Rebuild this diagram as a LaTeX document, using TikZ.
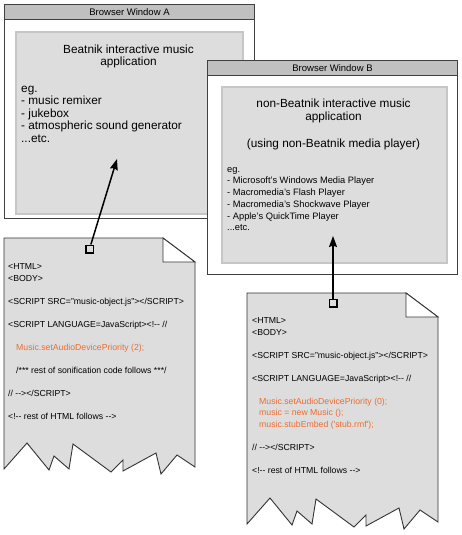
\documentclass[tikz,border=0pt]{standalone}
\usepackage{fontspec}
\setmainfont{Liberation Sans}
\usetikzlibrary{arrows.meta}
\definecolor{winframe}{RGB}{64,64,64}
\definecolor{titlegray}{RGB}{192,192,192}
\definecolor{panegray}{RGB}{221,221,221}
\definecolor{paneedge}{RGB}{198,198,198}
\definecolor{codeorange}{RGB}{238,108,48}

\begin{document}
\begin{tikzpicture}[x=1pt, y=-1pt,
    win/.style={draw=winframe, fill=white, line width=1pt, anchor=north west, inner sep=0pt, minimum width=250pt, minimum height=214pt},
    titlebar/.style={draw=winframe, fill=titlegray, line width=1pt, anchor=north west, inner sep=0pt, minimum width=250pt, minimum height=15pt, font=\fontsize{9.5}{11}\selectfont},
    pane/.style={draw=paneedge, fill=panegray, line width=2pt, anchor=north west, inner sep=0pt},
    bigtxt/.style={inner sep=0pt, font=\fontsize{11.8}{12.6}\selectfont},
    smalltxt/.style={inner sep=0pt, align=left, anchor=north west, font=\fontsize{9.3}{11.7}\selectfont},
    codetxt/.style={inner sep=0pt, align=left, anchor=north west, font=\fontsize{8.7}{11.5}\selectfont},
    sheet/.style={draw=black!80, fill=panegray, line width=0.9pt, line join=miter},
    fold/.style={draw=black!80, fill=white, line width=0.9pt},
    hookbox/.style={draw=black, fill=panegray, line width=1.5pt, minimum size=7.5pt, inner sep=0pt},
    arrowline/.style={line width=1.5pt, -{Stealth[length=11pt, width=8pt, inset=1.5pt]}}
]
\useasboundingbox (0,0) rectangle (461,535);

% Browser window A
\node[win] (winA) at (4,4) {};
\node[titlebar] (barA) at (winA.north west) {Browser Window A};
\node[pane, minimum width=227pt, minimum height=182pt] (paneA) at (15,31) {};
\node[bigtxt, align=center, anchor=north] (headA) at (128.5,44.5)
    {Beatnik interactive music\\application};
\node[bigtxt, align=left, anchor=north west] (listA) at (21,85.5)
    {eg.\\- music remixer\\- jukebox\\- atmospheric sound generator\\...etc.};

% Browser window B
\node[win] (winB) at (207,60) {};
\node[titlebar] (barB) at (winB.north west) {Browser Window B};
\node[pane, minimum width=225pt, minimum height=176pt] (paneB) at (221,86) {};
\node[bigtxt, align=center, anchor=north, font=\fontsize{11.8}{13.3}\selectfont] (headB) at (333.5,98.5)
    {non-Beatnik interactive music\\application\\ \\(using non-Beatnik media player)};
\node[smalltxt] (listB) at (227,167)
    {eg.\\- Microsoft's Windows Media Player\\- Macromedia's Flash Player\\- Macromedia's Shockwave Player\\- Apple's QuickTime Player\\...etc.};

% HTML pages
\foreach \ox/\oy in {4/238, 247/293} {
  \begin{scope}[shift={(\ox,\oy)}]
    \draw[sheet] (0,0) -- (159,0) -- (191,24) -- (191,229) -- (173,217) -- (157,236)
      -- (152,215) -- (119,233) -- (119,222) -- (107,234) -- (69,206) -- (65,231)
      -- (50,218) -- (45,232) -- (23,205) -- (0,231) -- cycle;
    \draw[fold] (159,0) -- (159,24) -- (191,24) -- cycle;
  \end{scope}
}

\node[codetxt] (codeA) at (8,263.8)
    {<HTML>\\<BODY>\\ \\<SCRIPT SRC="music-object.js"></SCRIPT>\\ \\
     <SCRIPT LANGUAGE=JavaScript><!-{}- //\\ \\
     \hspace*{8pt}\textcolor{codeorange}{Music.setAudioDevicePriority (2);}\\ \\
     \hspace*{8pt}/*** rest of sonification code follows ***/\\ \\
     // -{}-></SCRIPT>\\ \\
     <!-{}- rest of HTML follows -{}->};

\node[codetxt] (codeB) at (252,317.8)
    {<HTML>\\<BODY>\\ \\<SCRIPT SRC="music-object.js"></SCRIPT>\\ \\
     <SCRIPT LANGUAGE=JavaScript><!-{}- //\\ \\
     \hspace*{7pt}\textcolor{codeorange}{Music.setAudioDevicePriority (0);}\\
     \hspace*{7pt}\textcolor{codeorange}{music = new Music ();}\\
     \hspace*{7pt}\textcolor{codeorange}{music.stubEmbed (\textquotesingle stub.rmf\textquotesingle);}\\ \\
     // -{}-></SCRIPT>\\ \\
     <!-{}- rest of HTML follows -{}->};

% Links
\node[hookbox] (sqA) at (89.5,249) {};
\node[hookbox] (sqB) at (333,303) {};
\coordinate (tipA) at (117,159);
\coordinate (tipB) at (333,236);
\draw[arrowline] (sqA) -- (tipA);
\draw[arrowline] (sqB) -- (tipB);
\end{tikzpicture}
\end{document}
